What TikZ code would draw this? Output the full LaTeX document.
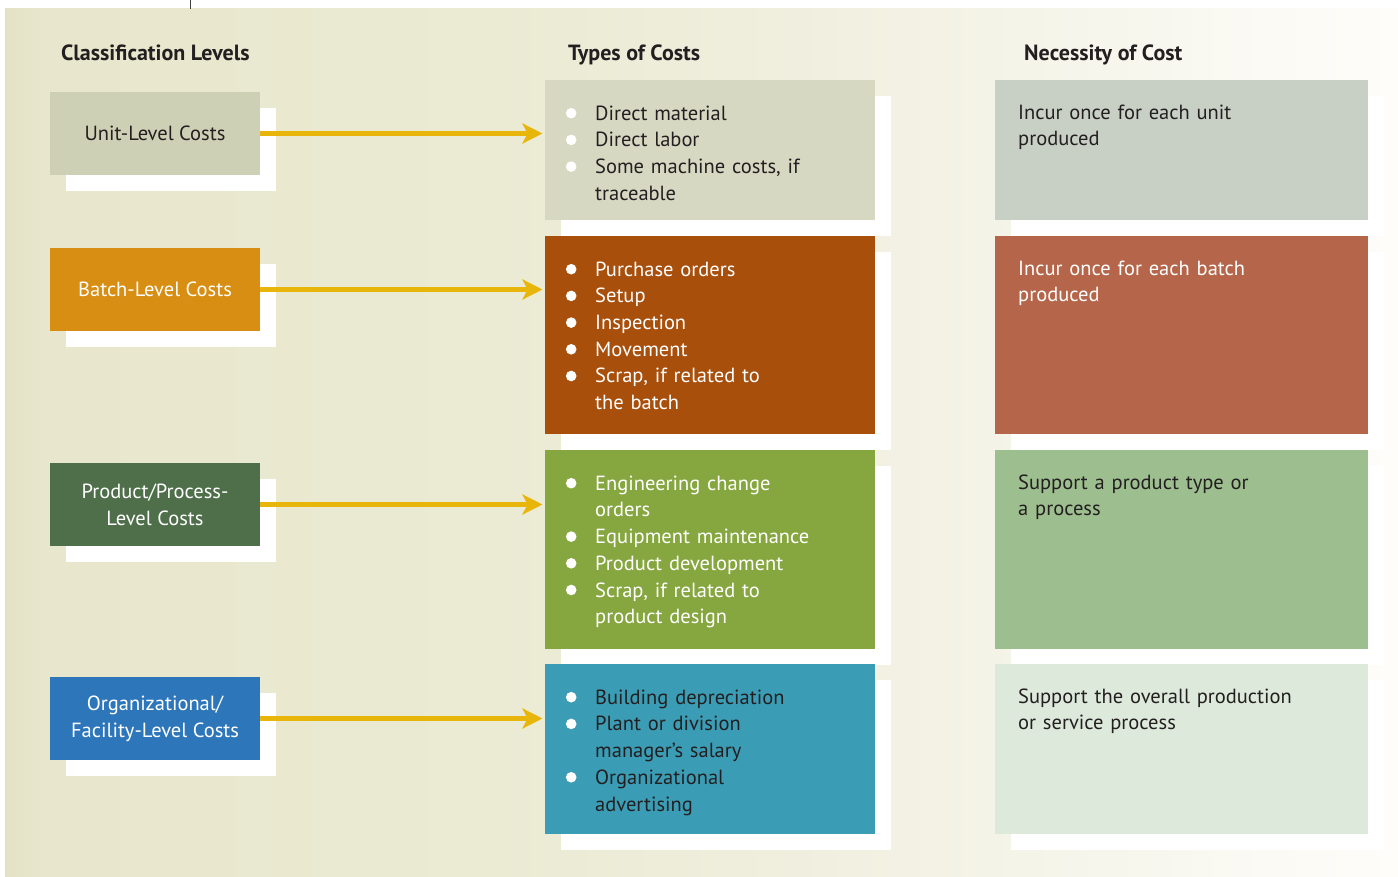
\documentclass[tikz,border=0pt]{standalone}
\usepackage{fontspec}
\setmainfont{PT Sans}
\usetikzlibrary{arrows.meta,shadows}

\definecolor{txt}{HTML}{231F20}
\definecolor{arrowc}{HTML}{E8B50A}
\definecolor{unitL}{HTML}{CDD0B4}
\definecolor{unitM}{HTML}{D6D8C2}
\definecolor{unitR}{HTML}{C8D0C6}
\definecolor{batchL}{HTML}{D88E13}
\definecolor{batchM}{HTML}{A84F0C}
\definecolor{batchR}{HTML}{B5664A}
\definecolor{prodL}{HTML}{4E6F4A}
\definecolor{prodM}{HTML}{86A63F}
\definecolor{prodR}{HTML}{9DBE8E}
\definecolor{orgL}{HTML}{2E76BA}
\definecolor{orgM}{HTML}{3B9DB5}
\definecolor{orgR}{HTML}{DDE9DB}
\definecolor{bgA}{HTML}{E3E2C5}
\definecolor{bgB}{HTML}{E8E7CD}
\definecolor{bgC}{HTML}{EBEAD3}
\definecolor{bgD}{HTML}{F2F1E3}
\definecolor{bgE}{HTML}{FEFDFA}

\pgfdeclarehorizontalshading{bgshade}{100bp}{color(0bp)=(bgA); color(25bp)=(bgA); color(26.4bp)=(bgB); color(42.8bp)=(bgC); color(57.1bp)=(bgD); color(75bp)=(bgE); color(100bp)=(bgE)}

\newcommand{\bulletdot}{\tikz[baseline=-7pt]\fill[white] (0,0) circle (5.3pt);}
\newcommand{\costitem}[1]{\noindent\llap{\bulletdot\hspace{18.7pt}}#1\par}

\begin{document}
\begin{tikzpicture}[x=1pt, y=-1pt,
  every node/.style={font=\fontsize{20.5}{26.7}\selectfont, text=txt},
  box shadow/.style={general shadow={fill=white, shadow xshift=16pt, shadow yshift=-16pt}},
  levelbox/.style={box shadow, minimum width=210pt, minimum height=83pt, inner sep=0pt, align=center},
  typesbox/.style={box shadow, anchor=north west, inner sep=0pt, text width=330pt, text height=40pt, align=left},
  needbox/.style={box shadow, anchor=north west, inner sep=0pt, text width=373pt, text height=39pt, align=left},
  heading/.style={anchor=base west, inner sep=0pt, font=\fontsize{22}{26}\selectfont\bfseries},
  costarrow/.style={draw=arrowc, line width=5pt, shorten >=2.5pt, -{Stealth[length=20pt, width=20pt, inset=5pt]}}]
\useasboundingbox (0,0) rectangle (1398,877);
% background
\shade[shading=bgshade] (5,9) rectangle (1398,877);
\draw[black!75, line width=1pt] (190,0) -- (190,9);

% column headings
\node[heading] (hlevels) at (61,61) {Classification Levels};
\node[heading] (htypes) at (568,61) {Types of Costs};
\node[heading] (hneed) at (1024,61) {Necessity of Cost};

% classification levels
\node[levelbox, fill=unitL] (unit) at (155,133.5) {Unit-Level Costs};
\node[levelbox, fill=batchL, text=white] (batch) at (155,289.5) {Batch-Level Costs};
\node[levelbox, fill=prodL, text=white] (prod) at (155,504.5) {Product/Process-\\Level Costs};
\node[levelbox, fill=orgL, text=white] (org) at (155,718.5) {Organizational/\\Facility-Level Costs};

% types of costs
\node[typesbox, fill=unitM, text depth=100pt] (tunit) at (545,80)
  {\leftskip=50pt \costitem{Direct material}\costitem{Direct labor}\costitem{Some machine costs, if\newline traceable}};
\node[typesbox, fill=batchM, text=white, text depth=158pt] (tbatch) at (545,236)
  {\leftskip=50pt \costitem{Purchase orders}\costitem{Setup}\costitem{Inspection}\costitem{Movement}\costitem{Scrap, if related to\newline the batch}};
\node[typesbox, fill=prodM, text=white, text depth=159pt] (tprod) at (545,450)
  {\leftskip=50pt \costitem{Engineering change\newline orders}\costitem{Equipment maintenance}\costitem{Product development}\costitem{Scrap, if related to\newline product design}};
\node[typesbox, fill=orgM, text depth=130pt] (torg) at (545,664)
  {\leftskip=50pt \costitem{Building depreciation}\costitem{Plant or division\newline manager’s salary}\costitem{Organizational\newline advertising}};

% necessity of cost
\node[needbox, fill=unitR, text depth=101pt] (nunit) at (995,80)
  {\leftskip=23pt Incur once for each unit\newline produced\par};
\node[needbox, fill=batchR, text=white, text depth=159pt] (nbatch) at (995,236)
  {\leftskip=23pt Incur once for each batch\newline produced\par};
\node[needbox, fill=prodR, text depth=160pt] (nprod) at (995,450)
  {\leftskip=23pt Support a product type or\newline a process\par};
\node[needbox, fill=orgR, text depth=131pt] (norg) at (995,664)
  {\leftskip=23pt Support the overall production\newline or service process\par};

% arrows
\foreach \n in {unit,batch,prod,org}
  \draw[costarrow] (\n.east) -- (\n.east -| t\n.west);
\end{tikzpicture}
\end{document}
